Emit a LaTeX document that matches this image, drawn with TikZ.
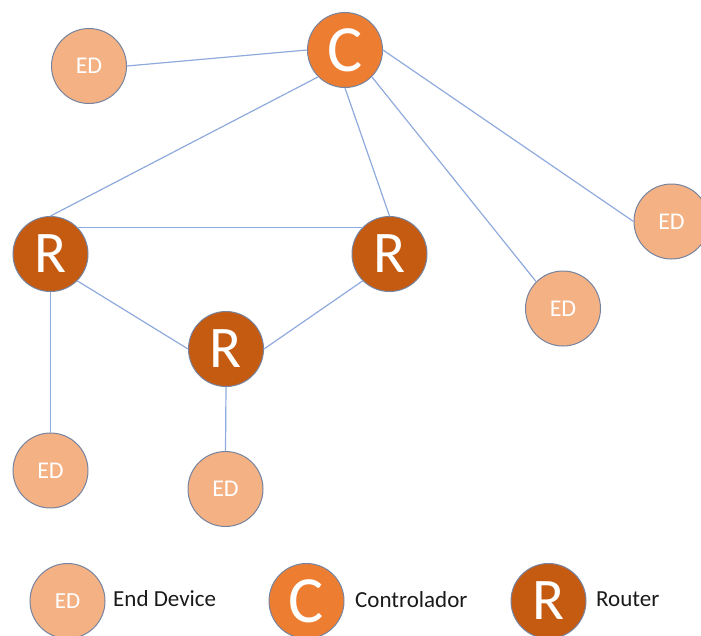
\documentclass[tikz,border=0pt]{standalone}
\usepackage{fontspec}
\setmainfont{Carlito}
\definecolor{edfill}{HTML}{F4B183}
\definecolor{cfill}{HTML}{ED7D31}
\definecolor{rfill}{HTML}{C55A11}
\definecolor{rim}{RGB}{118,132,160}
\definecolor{link}{HTML}{8FAADC}
\definecolor{txt}{HTML}{1A1A1A}
\begin{document}
\begin{tikzpicture}[x=1pt,y=-1pt,
  base/.style={circle,draw=rim,line width=1pt,inner sep=0pt,minimum size=75pt,text=white},
  ednode/.style={base,fill=edfill,font=\fontsize{24}{24}\selectfont},
  cnode/.style={base,fill=cfill,font=\fontsize{66}{66}\selectfont},
  rnode/.style={base,fill=rfill,font=\fontsize{59}{59}\selectfont},
  legtext/.style={anchor=base west,inner sep=0pt,text=txt,font=\fontsize{23}{23}\selectfont},
  conn/.style={draw=link,line width=1.2pt}]
\useasboundingbox (0,0) rectangle (701,635);
% network nodes
\node[cnode] (C) at (345,50) {\raisebox{-3pt}{C}};
\node[ednode] (EDtl) at (89,66) {ED};
\node[rnode] (Rl) at (50.5,254) {\raisebox{-2pt}{R}};
\node[rnode] (Rr) at (389.5,254) {\raisebox{-2pt}{R}};
\node[rnode] (Rm) at (226,349) {\raisebox{-2pt}{R}};
\node[ednode] (EDr) at (671.5,221.5) {ED};
\node[ednode] (EDm) at (563,308.5) {ED};
\node[ednode] (EDbl) at (50.5,470.5) {ED};
\node[ednode] (EDbm) at (225.5,489) {ED};
% connectors
\begin{scope}[on background layer/.style={}]
\draw[conn] (EDtl.east) -- (C.west);
\draw[conn] (C.south west) -- (Rl.north);
\draw[conn] (C.south) -- (Rr.north);
\draw[conn] (C.south east) -- (EDm.north west);
\draw[conn] (C.east) -- (EDr.west);
\draw[conn] (Rl.north east) -- (Rr.north west);
\draw[conn] (Rl.south east) -- (Rm.west);
\draw[conn] (Rr.south west) -- (Rm.east);
\draw[conn] (Rl.south) -- (EDbl.north);
\draw[conn] (Rm.south) -- (EDbm.north);
\end{scope}
% legend
\node[ednode,font=\fontsize{23}{23}\selectfont] (LED) at (67.5,601) {ED};
\node[cnode] (LC) at (306.5,601) {\raisebox{-3pt}{C}};
\node[rnode] (LR) at (548.5,601) {\raisebox{-2pt}{R}};
\node[legtext] (TED) at (113,606) {End Device};
\node[legtext] (TC) at (355,607) {Controlador};
\node[legtext] (TR) at (596,606) {Router};
\end{tikzpicture}
\end{document}
